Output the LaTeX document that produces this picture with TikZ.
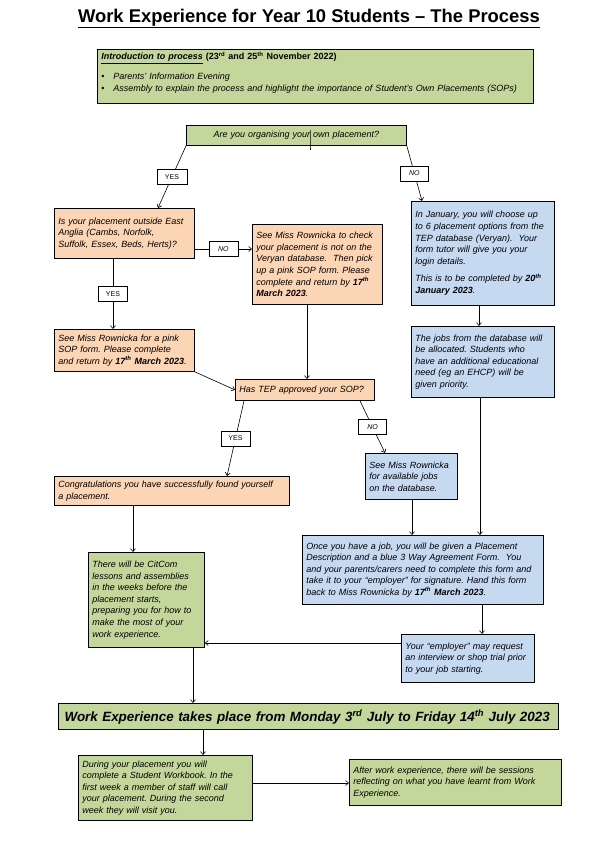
\documentclass[tikz,border=0pt]{standalone}
\usepackage{fontspec}
\setmainfont{Liberation Sans}
\usetikzlibrary{arrows.meta}

\definecolor{boxgreen}{HTML}{C4D79B}
\definecolor{boxorange}{HTML}{FCD5B4}
\definecolor{boxblue}{HTML}{C5D9F1}
\def\sth{\textsuperscript{th}}
\frenchspacing

\begin{document}
\begin{tikzpicture}[x=1pt,y=-1pt,
  boxsty/.style={draw,line width=0.8pt,anchor=north west,inner xsep=4pt,inner ysep=2pt,
    align=left,font=\fontsize{9}{11.6}\selectfont\itshape},
  greensty/.style={boxsty,fill=boxgreen},
  orangesty/.style={boxsty,fill=boxorange},
  bluesty/.style={boxsty,fill=boxblue},
  wh/.style 2 args={minimum width=#1pt,minimum height=#2pt,
    text width=#1pt-2*\pgfkeysvalueof{/pgf/inner xsep}},
  labelsty/.style={draw,fill=white,line width=0.6pt,minimum height=15pt,inner sep=0pt,
    font=\fontsize{7}{8}\selectfont},
  arr/.style={-{Straight Barb[length=3pt,width=5pt]},line width=0.6pt}]
  \fill[white] (0,0) rectangle (611,841);
  \useasboundingbox (0,0) rectangle (611,841);

  \node[anchor=base,font=\fontsize{18.4}{22}\selectfont\bfseries] (title) at (309,22)
    {\underline{Work Experience for Year 10 Students -- The Process}};

  \node[greensty,wh={436}{54},font=\fontsize{9}{12}\selectfont] (intro) at (97,49)
    {\textbf{\textit{\underline{Introduction to process}}} \textbf{(23\textsuperscript{rd} and 25\sth{} November 2022)}\\[8pt]
     \makebox[12pt][l]{\textbullet}\textit{Parents' Information Evening}\\
     \makebox[12pt][l]{\textbullet}\textit{Assembly to explain the process and highlight the importance of Student's Own Placements (SOPs)}\\[-3pt]\mbox{}};

  \node[greensty,wh={220}{20},align=center] (ask) at (186,125)
    {Are you organising your own placement?};
  \draw[line width=0.6pt] (ask.north -| 310,0) ++(0,5) -- (ask.south -| 310,0) -- ++(0,4);

  % own placement
  \node[orangesty,wh={140}{50}] (outside) at (54,208)
    {Is your placement outside East\\ Anglia (Cambs, Norfolk,\\ Suffolk, Essex, Beds, Herts)?};
  \node[orangesty,wh={130}{80}] (check) at (252,224)
    {See Miss Rownicka to check\\ your placement is not on the\\ Veryan database.\ \ Then pick\\
     up a pink SOP form. Please\\ complete and return by \textbf{17\sth}\\ \textbf{March 2023}.};
  \node[orangesty,wh={140}{42}] (pink) at (54,329)
    {See Miss Rownicka for a pink\\ SOP form. Please complete\\ and return by \textbf{17\sth{} March 2023}.};
  \node[orangesty,wh={139}{21}] (tep) at (235,379) {Has TEP approved your SOP?};
  \node[orangesty,wh={235}{29}] (congrats) at (54,476)
    {Congratulations you have successfully found yourself\\ a placement.};

  % TEP database
  \node[bluesty,wh={143}{104}] (choose) at (411,201)
    {In January, you will choose up\\ to 6 placement options from the\\ TEP database (Veryan).\ \ Your\\
     form tutor will give you your\\ login details.\\[6pt]
     This is to be completed by \textbf{20\sth}\\ \textbf{January 2023}.};
  \node[bluesty,wh={143}{71}] (allocated) at (411,326)
    {The jobs from the database will\\ be allocated. Students who\\ have an additional educational\\
     need (eg an EHCP) will be\\ given priority.};
  \node[bluesty,wh={92}{46}] (jobs) at (365,453)
    {See Miss Rownicka\\ for available jobs\\ on the database.};
  \node[bluesty,wh={241}{69}] (once) at (302,535)
    {Once you have a job, you will be given a Placement\\ Description and a blue 3 Way Agreement Form.\ \ You\\
     and your parents/carers need to complete this form and\\
     take it to your \textquotedblleft employer\textquotedblright{} for signature. Hand this form\\
     back to Miss Rownicka by \textbf{17\sth{} March 2023}.};
  \node[bluesty,wh={133}{48}] (employer) at (401,634)
    {Your \textquotedblleft employer\textquotedblright{} may request\\ an interview or shop trial prior\\ to your job starting.};

  \node[greensty,wh={116}{95}] (citcom) at (88,552)
    {There will be CitCom\\ lessons and assemblies\\ in the weeks before the\\ placement starts,\\
     preparing you for how to\\ make the most of your\\ work experience.};
  \node[greensty,wh={500}{26},line width=1.2pt,inner xsep=6pt,
    font=\fontsize{13.4}{16}\selectfont\bfseries\itshape] (we) at (58,703)
    {Work Experience takes place from Monday 3\textsuperscript{rd} July to Friday 14\sth{} July 2023};
  \node[greensty,wh={174}{65}] (workbook) at (78,755)
    {During your placement you will\\ complete a Student Workbook. In the\\ first week a member of staff will call\\
     your placement. During the second\\ week they will visit you.};
  \node[greensty,wh={212}{46}] (after) at (349,759)
    {After work experience, there will be sessions\\ reflecting on what you have learnt from Work\\ Experience.};

  % connectors
  \draw[arr] (ask.south west) -- node[labelsty,minimum width=30pt] (yes1) {YES} (outside.north -| 158,0);
  \draw[arr] (ask.south east) -- node[labelsty,minimum width=28pt,font=\fontsize{7}{8}\selectfont\itshape] (no1) {NO}
    (choose.north -| 422,0);
  \draw[arr] (outside.east |- 0,249) -- node[labelsty,minimum width=29pt,font=\fontsize{7}{8}\selectfont\itshape] (no2) {NO}
    (check.west |- 0,249);
  \draw[arr] (outside.south -| 113,0) -- node[labelsty,minimum width=29pt] (yes2) {YES} (pink.north -| 113,0);
  \draw[arr] (check.south -| 307,0) -- (tep.north -| 307,0);
  \draw[arr] (pink.south east) -- (tep.west);
  \draw[arr] (tep.south -| 244,0) -- node[labelsty,minimum width=29pt] (yes3) {YES} (congrats.north -| 227,0);
  \draw[arr] (tep.south -| 360,0) -- node[labelsty,minimum width=28pt,font=\fontsize{7}{8}\selectfont\itshape] (no3) {NO}
    (jobs.north -| 385,0);
  \draw[arr] (choose.south -| 479,0) -- (allocated.north -| 479,0);
  \draw[arr] (allocated.south -| 480,0) -- (once.north -| 480,0);
  \draw[arr] (jobs.south -| 412,0) -- (once.north -| 412,0);
  \draw[arr] (once.south -| 482,0) -- (employer.north -| 482,0);
  \draw[arr] (employer.west |- 0,643) -- (citcom.east |- 0,643);
  \draw[arr] (congrats.south -| 133,0) -- (citcom.north -| 133,0);
  \draw[arr] (citcom.south -| 193,0) -- (we.north -| 193,0);
  \draw[arr] (we.south -| 203,0) -- (workbook.north -| 203,0);
  \draw[arr] (workbook.east |- 0,783) -- (after.west |- 0,783);
\end{tikzpicture}
\end{document}
